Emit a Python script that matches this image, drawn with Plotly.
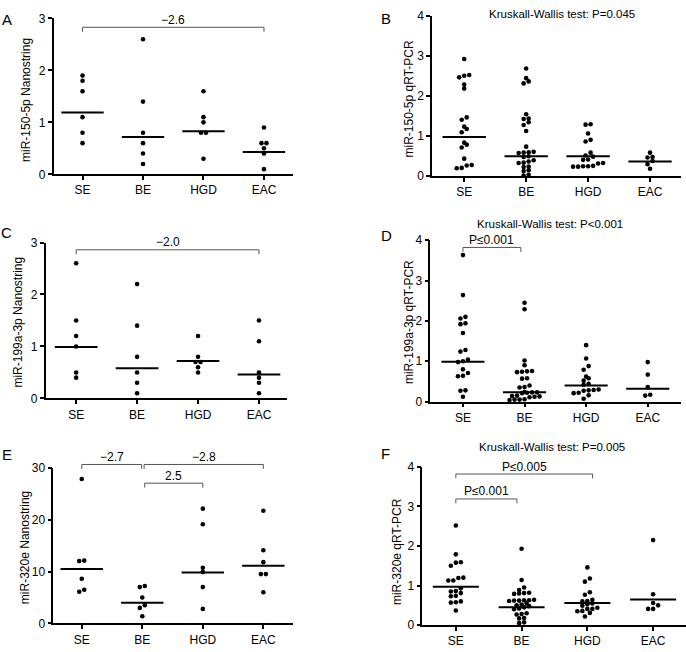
import plotly.graph_objects as go

W, H = 686, 652
FONT = "Arial, Liberation Sans, Helvetica, sans-serif"

categories = ["SE", "BE", "HGD", "EAC"]

# ---- Panel A: miR-150-5p Nanostring
A_SE = [1.9, 1.8, 1.6, 1.1, 0.8, 0.6]
A_BE = [2.6, 1.4, 0.8, 0.6, 0.4, 0.2]
A_HGD = [1.6, 1.1, 1.0, 0.8, 0.8, 0.3]
A_EAC = [0.9, 0.6, 0.6, 0.5, 0.4, 0.1]
A_LINE = [1.19, 0.72, 0.83, 0.43]
A_BRACKETS = [("SE", "EAC", "\u22122.6")]

# ---- Panel B: miR-150-5p qRT-PCR
B_SE = [2.93, 2.53, 2.51, 2.47, 2.29, 2.19, 1.47, 1.41, 1.24, 1.18, 1.10, 0.84, 0.79, 0.72, 0.44, 0.28, 0.27, 0.21, 0.20]
B_BE = [2.69, 2.45, 2.37, 2.32, 1.55, 1.44, 1.43, 1.35, 1.28, 1.13, 0.74, 0.61, 0.60, 0.59, 0.58, 0.50, 0.48,
        0.40, 0.37, 0.34, 0.33, 0.24, 0.23, 0.15, 0.13, 0.04, 0.02]
B_HGD = [1.30, 1.29, 1.07, 0.91, 0.87, 0.59, 0.52, 0.49, 0.42, 0.41, 0.33, 0.32, 0.26, 0.25, 0.25, 0.24, 0.24]
B_EAC = [0.59, 0.48, 0.47, 0.38, 0.30, 0.19]
B_LINE = [0.98, 0.50, 0.50, 0.37]
B_TEST = "Kruskall-Wallis test: P=0.045"

# ---- Panel C: miR-199a-3p Nanostring
C_SE = [2.6, 1.5, 1.2, 1.0, 0.5, 0.4]
C_BE = [2.2, 1.4, 0.8, 0.5, 0.3, 0.1]
C_HGD = [1.2, 0.8, 0.7, 0.7, 0.6, 0.5]
C_EAC = [1.5, 1.1, 0.5, 0.4, 0.3, 0.1]
C_LINE = [0.99, 0.58, 0.72, 0.46]
C_BRACKETS = [("SE", "EAC", "\u22122.0")]

# ---- Panel D: miR-199a-3p qRT-PCR
D_SE = [3.63, 2.64, 2.10, 2.06, 1.94, 1.92, 1.70, 1.28, 1.24, 1.04, 1.00, 0.98, 0.80, 0.71, 0.64, 0.63, 0.28, 0.27, 0.12]
D_BE = [2.45, 2.29, 1.02, 0.90, 0.76, 0.75, 0.74, 0.73, 0.58, 0.57, 0.40, 0.36, 0.35, 0.24, 0.23, 0.23, 0.22,
        0.21, 0.15, 0.14, 0.13, 0.12, 0.11, 0.06, 0.05, 0.05, 0.04]
D_HGD = [1.40, 1.07, 0.88, 0.79, 0.62, 0.58, 0.52, 0.44, 0.42, 0.30, 0.29, 0.28, 0.27, 0.22, 0.21, 0.16, 0.07]
D_EAC = [0.98, 0.67, 0.36, 0.17, 0.15]
D_LINE = [0.99, 0.23, 0.40, 0.32]
D_TEST = "Kruskall-Wallis test: P<0.001"
D_BRACKETS = [("SE", "BE", "P\u22640.001")]

# ---- Panel E: miR-320e Nanostring
E_SE = [27.8, 12.1, 12.0, 8.6, 6.5, 6.1]
E_BE = [7.2, 7.0, 5.0, 3.5, 3.0, 1.4]
E_HGD = [22.1, 19.1, 10.7, 9.9, 7.0, 2.8]
E_EAC = [21.7, 14.1, 11.8, 9.5, 9.5, 6.0]
E_LINE = [10.5, 4.0, 9.8, 11.1]
E_BRACKETS = [("SE", "BE", "\u22122.7"), ("BE", "EAC", "\u22122.8"), ("BE", "HGD", "2.5")]

# ---- Panel F: miR-320e qRT-PCR
F_SE = [2.52, 1.79, 1.59, 1.58, 1.50, 1.20, 1.19, 1.13, 1.13, 0.93, 0.86, 0.85, 0.81, 0.74, 0.73, 0.60, 0.58, 0.57, 0.37]
F_BE = [1.93, 1.14, 0.95, 0.89, 0.82, 0.81, 0.80, 0.79, 0.64, 0.63, 0.63, 0.62, 0.62, 0.61, 0.55, 0.52, 0.50,
        0.48, 0.45, 0.42, 0.40, 0.30, 0.28, 0.27, 0.18, 0.17, 0.07, 0.05]
F_HGD = [1.46, 1.18, 1.10, 0.83, 0.77, 0.64, 0.61, 0.60, 0.55, 0.53, 0.49, 0.44, 0.41, 0.41, 0.36, 0.35, 0.31, 0.22]
F_EAC = [2.15, 0.78, 0.56, 0.50, 0.41, 0.41]
F_LINE = [0.97, 0.45, 0.56, 0.65]
F_TEST = "Kruskall-Wallis test: P=0.005"
F_BRACKETS = [("SE", "HGD", "P\u22640.005"), ("SE", "BE", "P\u22640.001")]

# ---------------- layout / style (pixel boxes of each panel's plot area)
panels = [
    dict(letter="A", groups=[A_SE, A_BE, A_HGD, A_EAC], line=A_LINE, title="miR-150-5p Nanostring",
         box=(53.5, 293, 11.7, 171), xr=(-0.48, 3.48), ymax=3, dtick=1,
         letter_xy=(7, 13), title_xy=(26, 95), test=None, test_xy=None,
         brackets=A_BRACKETS, levels=[2.83], nudges=[(0, 0)]),
    dict(letter="B", groups=[B_SE, B_BE, B_HGD, B_EAC], line=B_LINE, title="miR-150-5p qRT-PCR",
         box=(432, 681, 9.3, 173), xr=(-0.52, 3.5), ymax=4, dtick=1,
         letter_xy=(386, 11.5), title_xy=(409, 94.5), test=B_TEST, test_xy=(561.5, 7.5),
         brackets=[], levels=[], nudges=[]),
    dict(letter="C", groups=[C_SE, C_BE, C_HGD, C_EAC], line=C_LINE, title="miR-199a-3p Nanostring",
         box=(45.7, 287, 240.7, 400), xr=(-0.5, 3.46), ymax=3, dtick=1,
         letter_xy=(7, 230), title_xy=(18.5, 322), test=None, test_xy=None,
         brackets=C_BRACKETS, levels=[2.86], nudges=[(0, 0)]),
    dict(letter="D", groups=[D_SE, D_BE, D_HGD, D_EAC], line=D_LINE, title="miR-199a-3p qRT-PCR",
         box=(430.3, 681, 238.3, 403.3), xr=(-0.53, 3.54), ymax=4, dtick=1,
         letter_xy=(386, 234), title_xy=(408.5, 322.5), test=D_TEST, test_xy=(549.5, 221.5),
         brackets=D_BRACKETS, levels=[3.82], nudges=[(0, -0.06)]),
    dict(letter="E", groups=[E_SE, E_BE, E_HGD, E_EAC], line=E_LINE, title="miR-320e Nanostring",
         box=(53.3, 293, 470.7, 630), xr=(-0.47, 3.49), ymax=30, dtick=10,
         letter_xy=(7, 457), title_xy=(25, 553), test=None, test_xy=None,
         brackets=E_BRACKETS, levels=[30.6, 30.6, 27.0], nudges=[(0, -0.01), (0.03, 0), (0.04, 0)]),
    dict(letter="F", groups=[F_SE, F_BE, F_HGD, F_EAC], line=F_LINE, title="miR-320e qRT-PCR",
         box=(422.3, 686, 470, 631.7), xr=(-0.51, 3.5), ymax=4, dtick=1,
         letter_xy=(385.5, 456), title_xy=(396.3, 556.7), test=F_TEST, test_xy=(551.5, 450),
         brackets=F_BRACKETS, levels=[3.82, 3.19], nudges=[(0, 0.08), (0, -0.07)]),
]

DOT = 4.6
GAP = 5.0
HALF_LINE = 0.35
EXTRA = 26  # px of headroom for bracket overlay subplots
BRACKET_COLOR = "#555555"


def swarm_offsets(values, px_unit, px_cat):
    order = sorted(range(len(values)), key=lambda i: values[i])
    rows = []
    for i in order:
        ypx = values[i] * px_unit
        if rows and ypx - rows[-1][0] < 4.0:
            rows[-1][1].append(i)
        else:
            rows.append([ypx, [i]])
    off = [0.0] * len(values)
    for _, idx in rows:
        n = len(idx)
        for k, i in enumerate(idx):
            off[i] = (k - (n - 1) / 2) * GAP / px_cat
    return off


def ax_names(n):
    s = "" if n == 1 else str(n)
    return "xaxis" + s, "yaxis" + s, "x" + s, "y" + s


fig = go.Figure()
layout = dict(width=W, height=H, margin=dict(l=0, r=0, t=0, b=0), paper_bgcolor="white",
              plot_bgcolor="rgba(0,0,0,0)", showlegend=False, font=dict(family=FONT, color="black"))
annotations = []
overlay_n = len(panels)

for i, p in enumerate(panels):
    n = i + 1
    xa, ya, xr_, yr_ = ax_names(n)
    x0, x1, top, bottom = p["box"]
    px_unit = (bottom - top) / p["ymax"]
    px_cat = (x1 - x0) / (p["xr"][1] - p["xr"][0])
    layout[xa] = dict(domain=[x0 / W, min(1.0, x1 / W)], range=list(p["xr"]), anchor=yr_,
                      tickmode="array", tickvals=list(range(len(categories))), ticktext=categories,
                      showline=True, linecolor="black", linewidth=1.5, ticks="outside", ticklen=4,
                      tickwidth=1.5, tickcolor="black", showgrid=False, zeroline=False,
                      tickfont=dict(size=12, color="black", family=FONT), fixedrange=True)
    layout[ya] = dict(domain=[1 - bottom / H, 1 - top / H], range=[0, p["ymax"]], anchor=xr_,
                      tick0=0, dtick=p["dtick"], showline=True, linecolor="black", linewidth=1.5,
                      ticks="outside", ticklen=4, tickwidth=1.5, tickcolor="black", showgrid=False,
                      zeroline=False, tickfont=dict(size=12, color="black", family=FONT), fixedrange=True)

    for g, vals in enumerate(p["groups"]):
        off = swarm_offsets(vals, px_unit, px_cat)
        fig.add_trace(go.Scatter(x=[g + o for o in off], y=vals, mode="markers", xaxis=xr_, yaxis=yr_,
                                 marker=dict(size=DOT, color="black", line=dict(width=0)),
                                 cliponaxis=False, hoverinfo="skip"))
        m = p["line"][g]
        fig.add_trace(go.Scatter(x=[g - HALF_LINE, g + HALF_LINE], y=[m, m], mode="lines",
                                 xaxis=xr_, yaxis=yr_, line=dict(color="black", width=2),
                                 hoverinfo="skip"))

    # panel letter
    lx, ly = p["letter_xy"]
    annotations.append(dict(text=p["letter"], x=lx / W, y=1 - ly / H, xref="paper", yref="paper",
                            showarrow=False, xanchor="center", yanchor="middle",
                            font=dict(size=15, family=FONT, color="black")))
    # y title
    tx, ty = p["title_xy"]
    annotations.append(dict(text=p["title"], x=tx / W, y=1 - ty / H, xref="paper", yref="paper",
                            showarrow=False, textangle=-90, xanchor="center", yanchor="middle",
                            font=dict(size=12, family=FONT, color="black")))
    if p["test"]:
        kx, ky = p["test_xy"]
        annotations.append(dict(text=p["test"], x=kx / W, y=1 - ky / H, xref="paper", yref="paper",
                                showarrow=False, xanchor="center", yanchor="middle",
                                font=dict(size=11.5, family=FONT, color="black")))

    # bracket overlay subplot (hidden axes with identical scale, taller area)
    if p["brackets"]:
        overlay_n += 1
        oxa, oya, oxr, oyr = ax_names(overlay_n)
        top2 = max(0.0, top - EXTRA)
        layout[oxa] = dict(domain=[x0 / W, min(1.0, x1 / W)], range=list(p["xr"]), anchor=oyr,
                           visible=False, fixedrange=True)
        layout[oya] = dict(domain=[1 - bottom / H, 1 - top2 / H],
                           range=[0, (bottom - top2) / px_unit], anchor=oxr, visible=False,
                           fixedrange=True)
        drop = 4.5 / px_unit
        for (a, b, lab), lev, (na, nb) in zip(p["brackets"], p["levels"], p["nudges"]):
            xa_ = categories.index(a) + na
            xb_ = categories.index(b) + nb
            fig.add_trace(go.Scatter(x=[xa_, xa_, xb_, xb_], y=[lev - drop, lev, lev, lev - drop],
                                     mode="lines", xaxis=oxr, yaxis=oyr,
                                     line=dict(color=BRACKET_COLOR, width=1), hoverinfo="skip"))
            annotations.append(dict(text=lab, x=(xa_ + xb_) / 2, y=lev, xref=oxr, yref=oyr,
                                    showarrow=False, xanchor="center", yanchor="middle", yshift=7.5,
                                    font=dict(size=12, family=FONT, color="black")))

layout["annotations"] = annotations
fig.update_layout(**layout)
fig.write_html("out.html", config={"displayModeBar": False},
               post_script="document.body.style.margin='0';document.body.style.overflow='hidden';")
